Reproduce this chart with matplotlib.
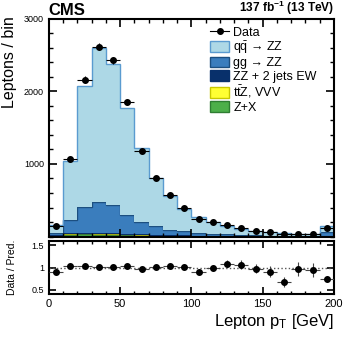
import numpy as np
import matplotlib
matplotlib.use("Agg")
import matplotlib.pyplot as plt
from matplotlib.patches import Patch
from matplotlib.lines import Line2D

plt.rcParams['font.family'] = ['Liberation Sans', 'DejaVu Sans']
plt.rcParams['mathtext.fontset'] = 'custom'
plt.rcParams['mathtext.rm'] = 'Liberation Sans'
plt.rcParams['mathtext.it'] = 'Liberation Sans:italic'
plt.rcParams['mathtext.bf'] = 'Liberation Sans:bold'

# Data (lepton pT bins, 10 GeV wide, last bin includes overflow)
bin_edges = np.arange(0, 201, 10)
zx     = [20, 28, 30, 28, 25, 20, 16, 12, 9, 7, 5, 4, 3, 3, 2, 2, 1.5, 1.5, 1, 4]
ttzvvv = [4, 10, 14, 14, 13, 11, 9, 7, 6, 5, 4, 3, 3, 2, 2, 2, 1, 1, 1, 5]
zz_ew  = [3, 6, 8, 9, 9, 8, 7, 6, 5, 4, 4, 3, 3, 2, 2, 2, 2, 1, 1, 6]
gg_zz  = [25, 180, 350, 430, 390, 265, 173, 125, 75, 55, 37, 25, 20, 15, 12, 8, 6, 5, 4, 45]
qq_zz  = [105, 815, 1675, 2117, 1938, 1466, 1015, 659, 461, 314, 216, 166, 123, 83, 64, 49, 39, 31, 28, 91]
data   = [142, 1065, 2158, 2615, 2425, 1848, 1180, 810, 575, 390, 240, 200, 165, 112, 80, 57, 33, 38, 33, 112]

components = [
    (zx, '#4daf4a', '#2e7d32', 'Z+X'),
    (ttzvvv, '#ffff33', '#c8c800', r't$\bar{\rm t}$Z, VVV'),
    (zz_ew, '#08306b', '#08306b', 'ZZ + 2 jets EW'),
    (gg_zz, '#3a7dbd', '#1c4f80', 'gg → ZZ'),
    (qq_zz, '#add8e6', '#5a9bd0', r'q$\bar{\rm q}$ → ZZ'),
]

fig = plt.figure(figsize=(3.49, 3.38), dpi=100)
ax = fig.add_axes([0.140, 0.300, 0.817, 0.645])
rax = fig.add_axes([0.140, 0.130, 0.817, 0.157])

centers = 0.5 * (bin_edges[:-1] + bin_edges[1:])
base = np.zeros(len(centers))
for vals, fc, ec, lab in components:
    top = base + np.array(vals, dtype=float)
    ax.stairs(top, bin_edges, baseline=base, fill=True, color=fc, lw=0)
    ax.stairs(top, bin_edges, baseline=None, color=ec, lw=1.0)
    base = top
total = base

d = np.array(data, dtype=float)
ax.errorbar(centers, d, yerr=np.sqrt(d), xerr=5, fmt='o', color='black',
            ms=4, elinewidth=0.8, capsize=0, zorder=5)

ax.set_xlim(0, 200)
ax.set_ylim(0, 3000)
ax.set_yticks([1000, 2000, 3000])
ax.set_yticks(np.arange(0, 3001, 200), minor=True)
ax.set_xticks(np.arange(0, 201, 50))
ax.set_xticks(np.arange(0, 201, 10), minor=True)
ax.tick_params(which='both', direction='in', top=True, right=True, labelsize=6.5)
ax.tick_params(which='major', length=6, width=1.2)
ax.tick_params(which='minor', length=3, width=1)
ax.tick_params(axis='x', labelbottom=False)
for s in ax.spines.values():
    s.set_linewidth(1.5)
ax.set_ylabel('Leptons / bin', fontsize=11.5, labelpad=2)
ax.yaxis.set_label_coords(-0.11, 0.8)

ax.text(0.0, 1.003, 'CMS', transform=ax.transAxes, fontsize=12, fontweight='bold',
        ha='left', va='bottom')
ax.text(1.0, 1.005, r'137 fb$^{\mathbf{-1}}$ (13 TeV)', transform=ax.transAxes, fontsize=8.6,
        fontweight='bold', ha='right', va='bottom')

handles = [Line2D([0], [0], color='black', marker='o', ms=4, lw=0.8)]
labels = ['Data']
for vals, fc, ec, lab in reversed(components):
    handles.append(Patch(facecolor=fc, edgecolor=ec, lw=1.0))
    labels.append(lab)
ax.legend(handles, labels, loc='upper left', bbox_to_anchor=(0.54, 1.0),
          frameon=False, fontsize=9, handlelength=1.5, handleheight=0.9,
          labelspacing=0.08, handletextpad=0.35, borderaxespad=0.2)

# Ratio
ratio = d / total
rerr = np.sqrt(d) / total
rax.axhline(1.0, color='#555555', ls=':', lw=1.0)
rax.errorbar(centers, ratio, yerr=rerr, xerr=5, fmt='o', color='black', ecolor='#444444',
             ms=4, elinewidth=0.8, capsize=0, zorder=5)
rax.set_xlim(0, 200)
rax.set_ylim(0.4, 1.6)
rax.set_yticks([0.5, 1.0, 1.5])
rax.set_yticklabels(['0.5', '1', '1.5'])
rax.set_xticks(np.arange(0, 201, 50))
rax.set_xticks(np.arange(0, 201, 10), minor=True)
rax.tick_params(which='both', direction='in', top=True, right=True, labelsize=6.5)
rax.tick_params(axis='x', labelsize=8)
rax.tick_params(which='major', length=5, width=1.2)
rax.tick_params(which='minor', length=2.5, width=1)
for s in rax.spines.values():
    s.set_linewidth(1.5)
rax.set_ylabel('Data / Pred.', fontsize=7.5)
rax.yaxis.set_label_coords(-0.11, 0.5)
rax.set_xlabel(r'Lepton p$_{\rm T}$ [GeV]', fontsize=12, ha='right', x=1.0, labelpad=2)

fig.savefig('out.png', dpi=100)
